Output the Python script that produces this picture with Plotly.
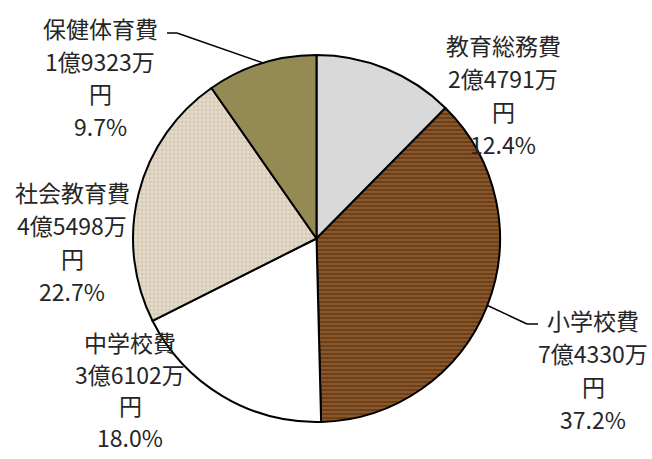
import math
import plotly.graph_objects as go

categories = ["教育総務費", "小学校費", "中学校費", "社会教育費", "保健体育費"]
amounts = ["2億4791万", "7億4330万", "3億6102万", "4億5498万", "1億9323万"]
percents = [12.4, 37.2, 18.0, 22.7, 9.7]

colors = ["#d9d9d9", "#8a572b", "#ffffff", "#e6ddcc", "#948a54"]
pat_shapes = ["", "-", "", "+", ""]
pat_fg = ["#d9d9d9", "#56300f", "#ffffff", "#c9bca6", "#948a54"]

# label block centers (pixels) and line spacing
W, H = 652, 459
label_pos = [(503, 45), (593, 320), (130, 342), (72, 192), (100, 28)]
line_gaps = [33, 33, 31.5, 33, 32.5]

fig = go.Figure(go.Pie(
    labels=categories,
    values=percents,
    sort=False,
    direction="clockwise",
    rotation=0,
    textinfo="none",
    hoverinfo="label+percent",
    marker=dict(
        colors=colors,
        line=dict(color="#000000", width=2),
        pattern=dict(shape=pat_shapes, fgcolor=pat_fg, bgcolor=colors,
                     size=4, solidity=0.3),
    ),
    domain=dict(x=[133 / W, 500 / W], y=[1 - 422 / H, 1 - 55 / H]),
    showlegend=False,
))

annotations = []
for cat, amt, pct, (cx, cy), gap in zip(categories, amounts, percents, label_pos, line_gaps):
    lines = [cat, amt, "円", f"{pct:.1f}%"]
    for i, t in enumerate(lines):
        annotations.append(dict(
            x=cx / W, y=1 - (cy + i * gap) / H, xref="paper", yref="paper",
            text=t, showarrow=False, xanchor="center", yanchor="middle",
            font=dict(family="Noto Sans CJK JP", size=23, color="#262626"),
        ))

# leader lines for 保健体育費 and 小学校費, anchored at slice mid-angles
cxp, cyp, r = 317, 238, 184
cum = 0
mids = []
for p in percents:
    mids.append((cum + p / 2) / 100 * 360)
    cum += p
shapes = []
def pt(deg):
    a = math.radians(deg)
    return cxp + r * math.sin(a), cyp - r * math.cos(a)

# 保健体育費
x0, y0 = pt(mids[4])
path_pts = [(x0, y0), (177, 33), (167, 33)]
# 小学校費
x1, y1 = pt(mids[1])
path_pts2 = [(x1, y1), (527, 324), (538, 324)]
for pts in (path_pts, path_pts2):
    for (a, b), (c, d) in zip(pts[:-1], pts[1:]):
        shapes.append(dict(type="line", xref="paper", yref="paper",
                           x0=a / W, y0=1 - b / H, x1=c / W, y1=1 - d / H,
                           line=dict(color="#000000", width=1.5)))

fig.update_layout(
    width=W, height=H,
    margin=dict(l=0, r=0, t=0, b=0),
    paper_bgcolor="#ffffff",
    plot_bgcolor="#ffffff",
    annotations=annotations,
    shapes=shapes,
)

fig.write_html("out.html", config={"displayModeBar": False},
               post_script="document.body.style.margin='0';document.body.style.overflow='hidden';")
